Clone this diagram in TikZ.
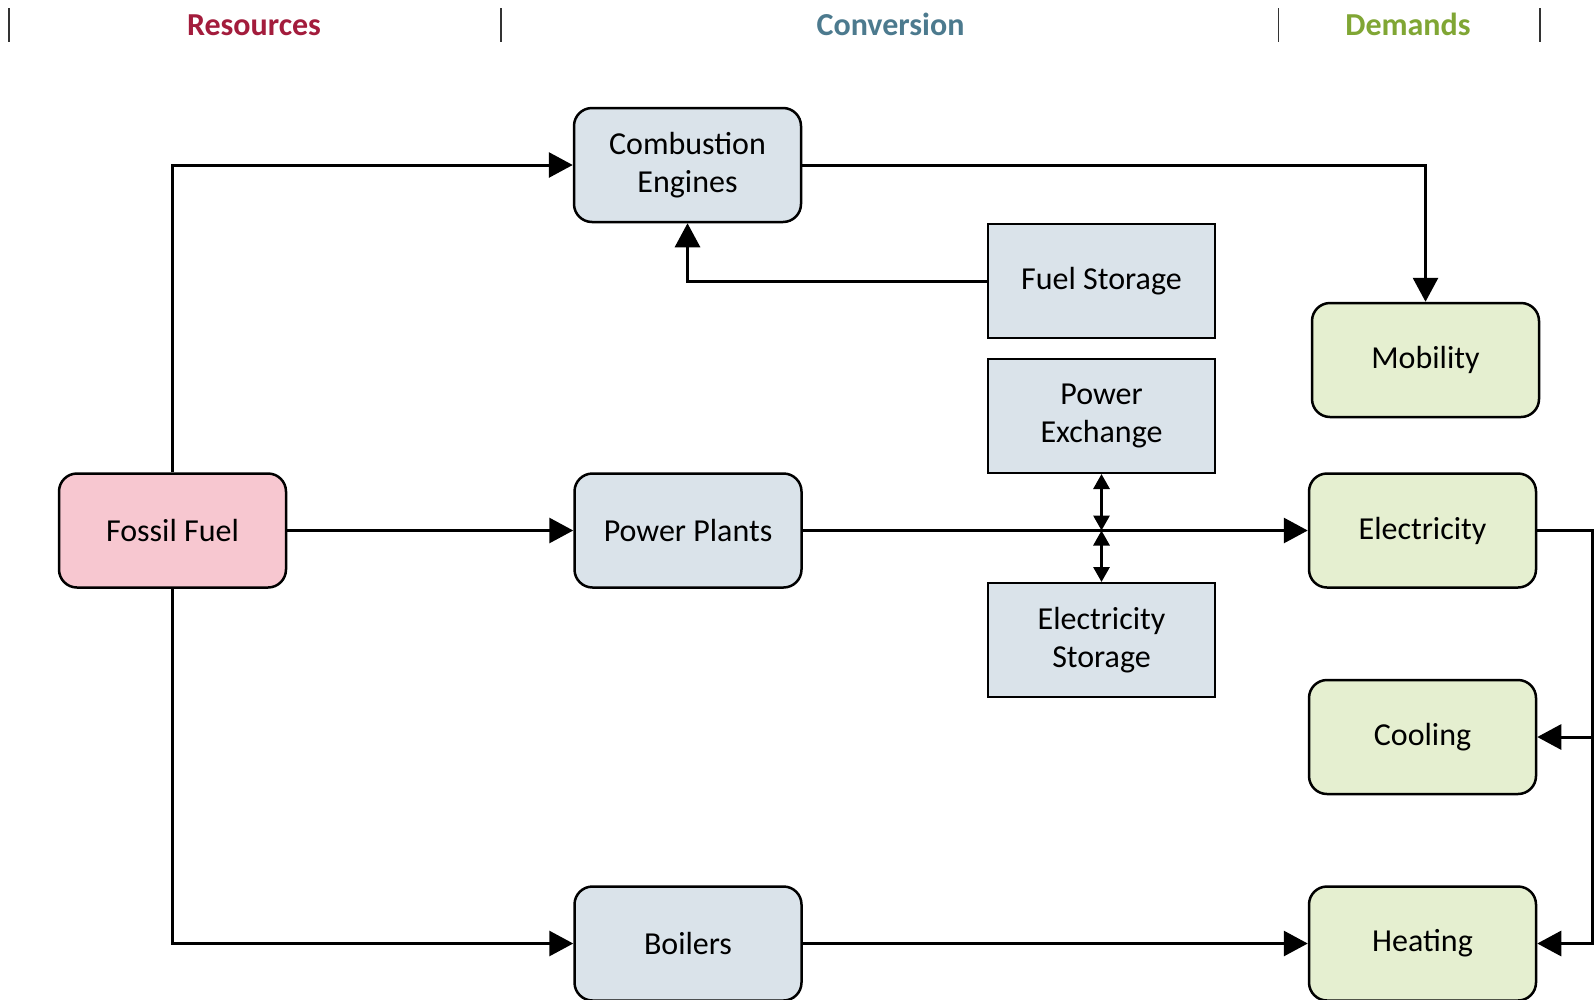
\documentclass[tikz,border=0pt]{standalone}
\usepackage{fontspec}
\setmainfont{Carlito}
\usetikzlibrary{arrows.meta,calc}
\definecolor{resc}{RGB}{163,28,60}
\definecolor{convc}{RGB}{76,122,142}
\definecolor{demc}{RGB}{128,166,52}
\definecolor{fossilfill}{RGB}{247,199,208}
\definecolor{convfill}{RGB}{218,227,234}
\definecolor{demfill}{RGB}{229,239,208}
\tikzset{
  base/.style={draw=black,line width=2.5pt,minimum width=227pt,minimum height=114pt,inner sep=0pt,align=center,font=\fontsize{32}{38}\selectfont},
  rbox/.style={base,rounded corners=18pt},
  fossil/.style={rbox,fill=fossilfill},
  conv/.style={rbox,fill=convfill},
  stor/.style={base,fill=convfill,line width=2pt},
  dem/.style={rbox,fill=demfill},
  arr/.style={line width=3pt,-{Triangle[length=24pt,width=25pt]}},
  darr/.style={line width=3pt,{Triangle[length=15pt,width=16pt]}-{Triangle[length=15pt,width=16pt]}},
  hdr/.style={font=\fontsize{32}{38}\selectfont\bfseries,anchor=base},
  sep/.style={line width=1.5pt,draw=black!80}
}
\begin{document}
\begin{tikzpicture}[x=1pt,y=-1pt]
\useasboundingbox (0,0) rectangle (1594,999);
\clip (0,0) rectangle (1594,999);
\fill[white] (0,0) rectangle (1594,999);
% headers
\node[hdr,text=resc] (hres) at (254,35) {Resources};
\node[hdr,text=convc] (hconv) at (890.5,35) {Conversion};
\node[hdr,text=demc] (hdem) at (1408,35) {Demands};
\foreach \x in {9,501,1278.5,1540} \draw[sep] (\x,8) -- (\x,42);
% nodes
\node[conv] (ce) at (687.5,165) {Combustion\\Engines};
\node[fossil] (ff) at (172.5,530.5) {Fossil Fuel};
\node[conv] (pp) at (688,530.5) {Power Plants};
\node[conv] (bo) at (688,943.5) {Boilers};
\node[stor] (fs) at (1101.5,281) {Fuel Storage};
\node[stor] (pe) at (1101.5,416) {Power\\Exchange};
\node[stor] (es) at (1101.5,640) {Electricity\\Storage};
\node[dem] (mob) at (1425.5,360) {Mobility};
\node[dem] (el) at (1422.5,530.5) {Electricity};
\node[dem] (co) at (1422.5,737) {Cooling};
\node[dem] (he) at (1422.5,943.5) {Heating};
% connectors
\draw[arr] (ff.north) |- (ce.west);
\draw[arr] (ff.east) -- (pp.west);
\draw[arr] (ff.south) |- (bo.west);
\draw[arr] (ce.east) -| (mob.north);
\draw[arr] (fs.west) -| (ce.south);
\draw[arr] (pp.east) -- (el.west);
\coordinate (j) at (pe.south |- pp.east);
\draw[darr] (pe.south) -- (j);
\draw[darr] (j) -- (es.north);
\draw[arr] (bo.east) -- (he.west);
\coordinate (r) at (1592,530.5);
\draw[arr] (el.east) -- (r) |- (he.east);
\draw[arr] (r |- co.east) -- (co.east);
\end{tikzpicture}
\end{document}
